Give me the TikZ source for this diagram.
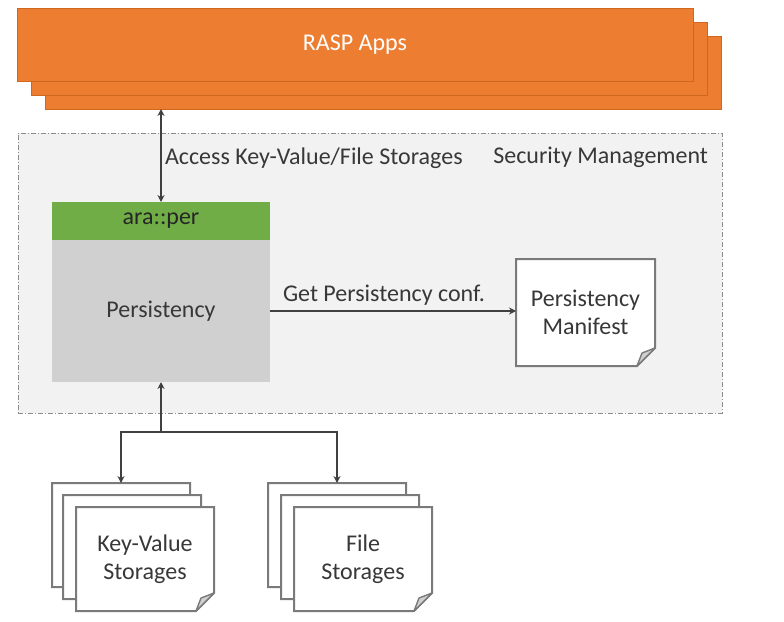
\documentclass[tikz,border=0pt]{standalone}
\usepackage{fontspec}
\setmainfont{Carlito}
\usetikzlibrary{arrows.meta}
\definecolor{rasporange}{HTML}{ED7D31}
\definecolor{raspedge}{HTML}{D0671E}
\definecolor{aragreen}{HTML}{70AD47}
\definecolor{pergray}{HTML}{D0D0D0}
\definecolor{secfill}{HTML}{F2F2F2}
\definecolor{secline}{HTML}{8C8C8C}
\definecolor{txt}{HTML}{383838}
\definecolor{docline}{HTML}{7A7A7A}
\definecolor{arrline}{HTML}{404040}
\pgfdeclarelayer{back}
\pgfdeclarelayer{bg}
\pgfsetlayers{back,bg,main}
\tikzset{
  base/.style={inner sep=0pt, outer sep=0pt, anchor=north west, font=\fontsize{24}{28}\selectfont, text=txt, align=center},
  raspbox/.style={base, fill=rasporange, draw=raspedge, line width=0.8pt, minimum width=676pt, minimum height=73pt},
  docnode/.style={base, minimum width=138pt, minimum height=104pt},
  docshape/.style={fill=white, draw=docline, line width=2pt, line join=miter},
  foldshape/.style={fill=docline!35, draw=docline, line width=1.4pt, line join=round},
  arr/.style={draw=arrline, line width=2.2pt},
  lbl/.style={inner sep=0pt, outer sep=0pt, font=\fontsize{24}{28}\selectfont, text=txt, align=center},
  >={Stealth[length=7pt,width=7pt]}
}
\newcommand\docpath[1]{%
  \path[docshape] (#1.north west) -- (#1.north east) -- ([yshift=18pt]#1.south east) -- ([xshift=-18pt]#1.south east) -- (#1.south west) -- cycle;
  \path[foldshape] ([yshift=18pt]#1.south east) -- ([xshift=-18pt]#1.south east) -- ([xshift=-13pt,yshift=13pt]#1.south east) -- cycle;}
\begin{document}
\begin{tikzpicture}[x=1pt,y=-1pt]
\useasboundingbox (0,0) rectangle (784,621);
% RASP Apps stack
\node[raspbox] (rasp3) at (45,36) {};
\node[raspbox] (rasp2) at (31,22) {};
\node[raspbox, text=white] (rasp1) at (17,8) {RASP Apps};
% Security management container
\begin{pgfonlayer}{back}
\node[base, fill=secfill, draw=secline, line width=0.9pt, dash pattern=on 5pt off 2pt on 1pt off 2pt, minimum width=704pt, minimum height=280pt] (sec) at (18,133) {};
\end{pgfonlayer}
\node[lbl, anchor=east] (secl) at (708,157) {Security Management};
% ara::per / Persistency
\node[base, fill=pergray, minimum width=218pt, minimum height=142pt] (per) at (52,240) {Persistency};
\node[base, fill=aragreen, text=black!85, minimum width=218pt, minimum height=38pt] (ara) at (52,202) {ara::per};
% Manifest
\node[docnode, minimum width=139pt, minimum height=107pt] (man) at (516,259) {Persistency\\Manifest};
\begin{pgfonlayer}{bg}\docpath{man}\end{pgfonlayer}
% Key-Value storages
\node[docnode] (kv3) at (52,483) {};
\node[docnode] (kv2) at (63,495) {};
\node[docnode] (kv1) at (76,507) {Key-Value\\Storages};
\begin{pgfonlayer}{bg}\docpath{kv3}\docpath{kv2}\docpath{kv1}\end{pgfonlayer}
% File storages
\node[docnode] (fs3) at (268,483) {};
\node[docnode] (fs2) at (281,495) {};
\node[docnode] (fs1) at (294,507) {File\\Storages};
\begin{pgfonlayer}{bg}\docpath{fs3}\docpath{fs2}\docpath{fs1}\end{pgfonlayer}
% connectors
\draw[arr,<->] (ara.north |- rasp3.south) -- (ara.north);
\node[lbl, anchor=west] (accl) at (165,158) {Access Key-Value/File Storages};
\draw[arr,->] (per.east) -- (per.east -| man.west);
\node[lbl] (getl) at (384,295) {Get Persistency conf.};
\coordinate (j) at (161,432);
\draw[arr,->] (j) -- (per.south);
\draw[arr,->] (j) -| (kv3.north);
\draw[arr,->] (j) -| (fs3.north);
\end{tikzpicture}
\end{document}
